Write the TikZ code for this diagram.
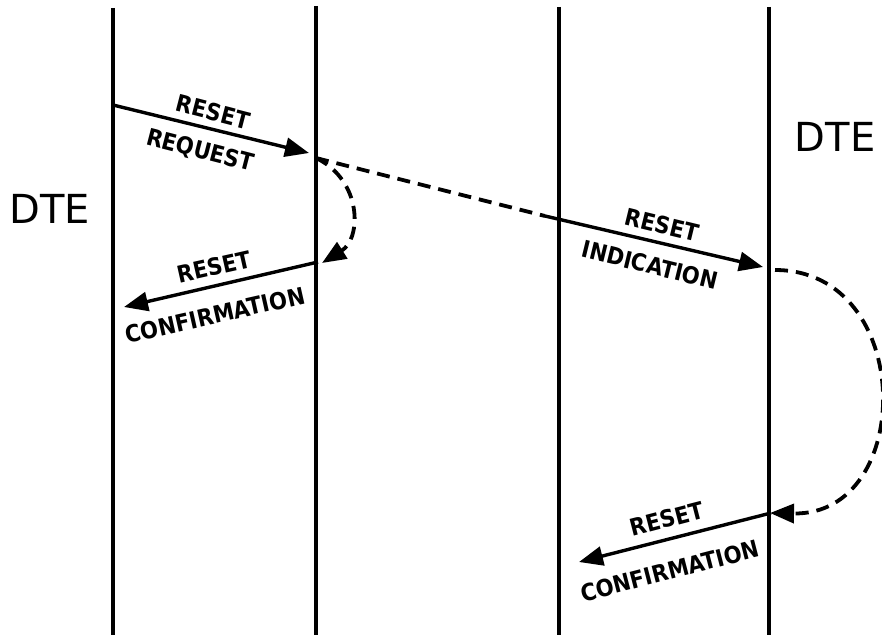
\documentclass[tikz,border=0pt]{standalone}
\usepackage{fontspec}
\setmainfont{DejaVu Sans}
\newfontfamily\lblfont{DejaVu Sans Condensed}[BoldFont={DejaVu Sans Condensed Bold}]
\usetikzlibrary{arrows.meta}
\tikzset{
  life/.style={line width=3.2pt},
  msg/.style={line width=3.4pt, -{Triangle[length=24pt,width=19pt]}},
  dsh/.style={line width=3.8pt, dash pattern=on 13pt off 8pt, -{Triangle[length=24pt,width=19pt]}},
  dshplain/.style={line width=3.8pt, dash pattern=on 13pt off 8pt},
  lbl/.style={font=\lblfont\bfseries\fontsize{23.5}{23.5}\selectfont, inner sep=0pt},
  dte/.style={font=\fontsize{40}{40}\selectfont, inner sep=0pt}
}
\begin{document}
\begin{tikzpicture}[x=1pt,y=-1pt]
\useasboundingbox (0,0) rectangle (882,634);
% lifelines
\coordinate (l1t) at (113,8);  \coordinate (l1b) at (113,636);
\coordinate (l2t) at (316,6);  \coordinate (l2b) at (316,636);
\coordinate (l3t) at (559,7);  \coordinate (l3b) at (559,636);
\coordinate (l4t) at (769,7);  \coordinate (l4b) at (769,636);
\draw[life] (l1t) -- (l1b);
\draw[life] (l2t) -- (l2b);
\draw[life] (l3t) -- (l3b);
\draw[life] (l4t) -- (l4b);
% DTE labels
\node[dte] (dteL) at (50,209) {DTE};
\node[dte] (dteR) at (835,137) {DTE};
% message points
\coordinate (a1s) at (113,105);
\coordinate (a1e) at (309,153);
\coordinate (d1s) at (316,158);
\coordinate (d1e) at (322,263);
\coordinate (a2s) at (318,262);
\coordinate (a2e) at (124,307);
\coordinate (a3s) at (545,216);
\coordinate (a3e) at (763,267);
\coordinate (d3s) at (775,270);
\coordinate (d3e) at (770,513);
\coordinate (a4s) at (771,513);
\coordinate (a4e) at (579,562);
% arrows
\draw[msg] (a1s) -- (a1e);
\draw[dsh] (d1s) .. controls (362,180) and (362,238) .. (d1e);
\draw[msg] (a2s) -- (a2e);
\draw[dshplain] (d1s) -- (a3s);
\draw[msg] (a3s) -- (a3e);
\draw[dsh] (d3s) .. controls (916,270) and (916,516) .. (d3e);
\draw[msg] (a4s) -- (a4e);
% labels
\node[lbl, rotate=-14.5] (t1a) at (213,112) {RESET};
\node[lbl, rotate=-14.5] (t1b) at (200,151) {REQUEST};
\node[lbl, rotate=12.7] (t2a) at (214,267) {RESET};
\node[lbl, rotate=12.7] (t2b) at (215,315) {CONFIRMATION};
\node[lbl, rotate=-13.7] (t3a) at (662,225) {RESET};
\node[lbl, rotate=-13.7] (t3b) at (650,265) {INDICATION};
\node[lbl, rotate=14.5] (t4a) at (667,519) {RESET};
\node[lbl, rotate=14.5] (t4b) at (670,571) {CONFIRMATION};
\end{tikzpicture}
\end{document}
